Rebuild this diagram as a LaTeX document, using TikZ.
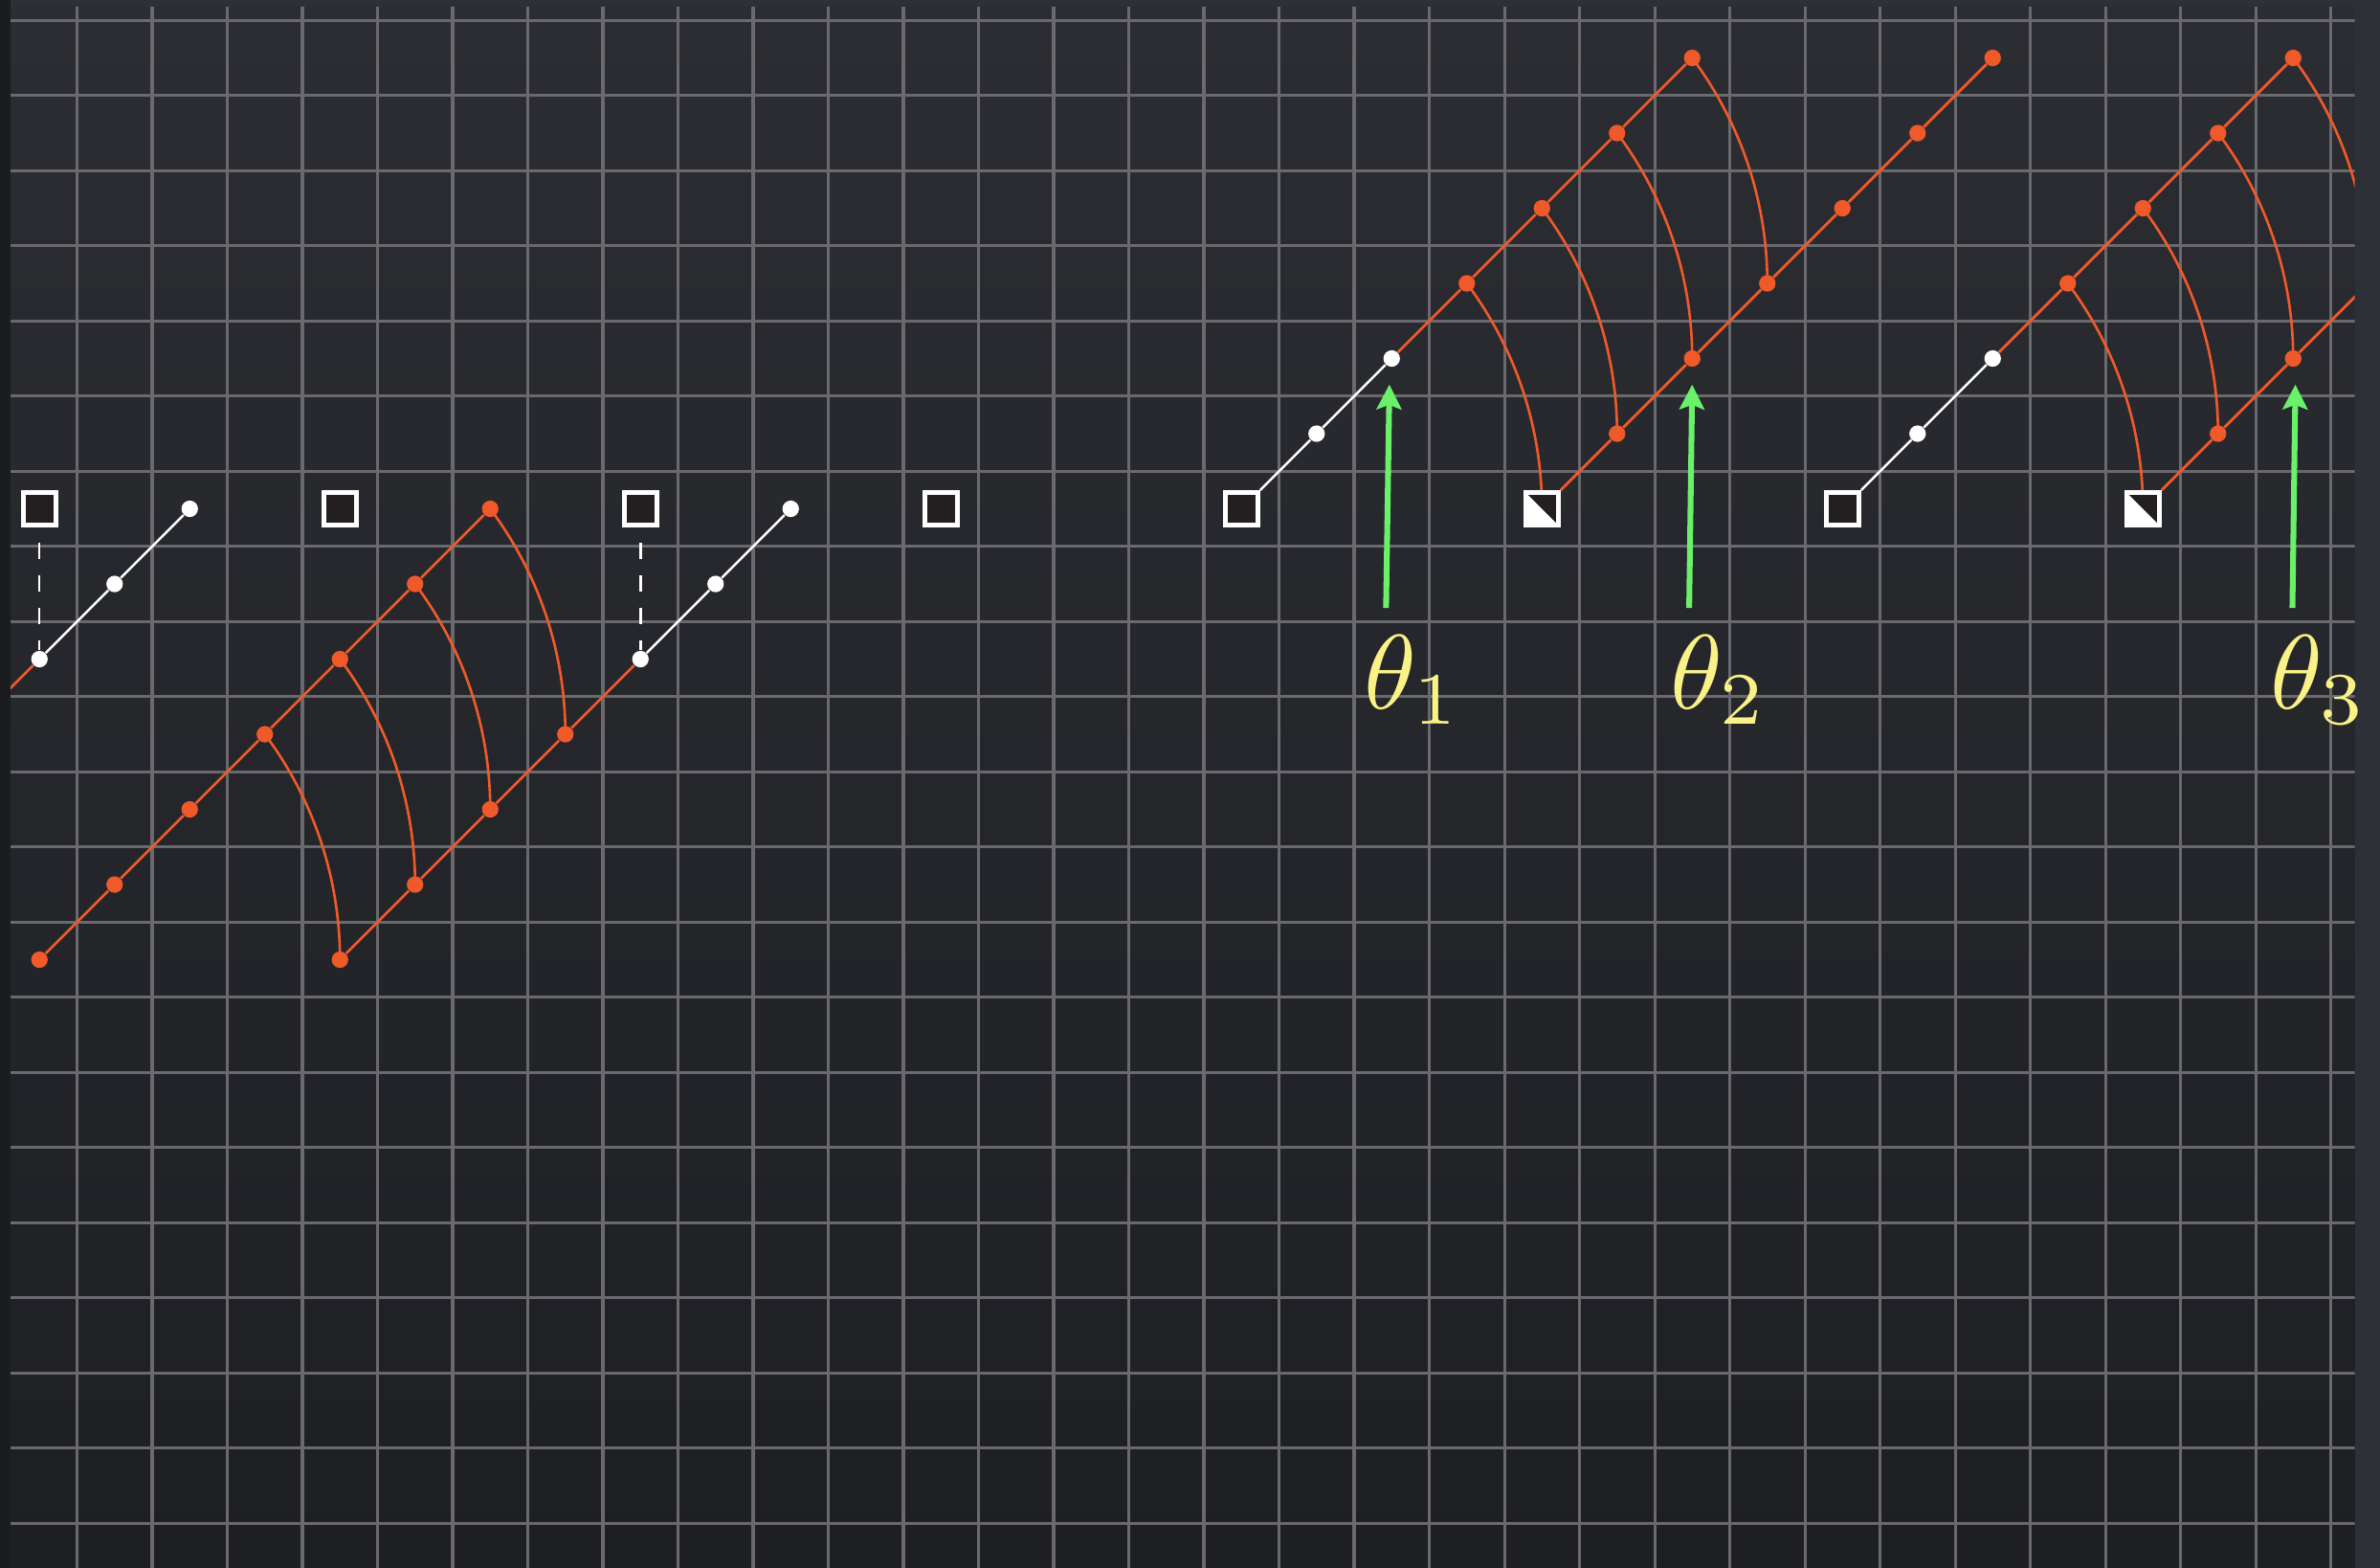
\documentclass[tikz,border=0pt]{standalone}
\usetikzlibrary{arrows.meta}
\definecolor{outerbg}{HTML}{2E3037}
\definecolor{leftbg}{HTML}{1B1C20}
\definecolor{boardtop}{HTML}{2C2D32}
\definecolor{boardbot}{HTML}{1E1F23}
\definecolor{gridc}{HTML}{69696E}
\definecolor{orng}{HTML}{F05A2A}
\definecolor{sqfill}{HTML}{231F20}
\definecolor{grn}{HTML}{6AF06A}
\definecolor{yel}{HTML}{FAF287}
\pgfdeclarelayer{back}
\pgfdeclarelayer{mid}
\pgfsetlayers{back,mid,main}
\tikzset{
  wdot/.style={circle, fill=white, inner sep=0pt, minimum size=0.22cm},
  odot/.style={circle, fill=orng, inner sep=0pt, minimum size=0.22cm},
  sqbox/.style={rectangle, draw=white, fill=sqfill, line width=1.8pt, minimum size=0.436cm, inner sep=0pt},
  halfbox/.style={sqbox, path picture={\fill[white] (path picture bounding box.north west) -- (path picture bounding box.south west) -- (path picture bounding box.south east) -- cycle;}},
  wline/.style={white, line width=0.9pt},
  oline/.style={orng, line width=1pt},
  arcR/.style={orng, line width=0.95pt},
  dashline/.style={white, line width=0.9pt, dash pattern=on 0.215cm off 0.22cm, shorten <=0.2cm},
  garrow/.style={grn, line width=2.2pt, -{Stealth[length=0.33cm, width=0.33cm, inset=0.06cm]}},
  lbl/.style={text=yel, anchor=base west, inner sep=0pt, scale=4},
  gridline/.style={gridc, line width=1.1pt},
}
\begin{document}
\begin{tikzpicture}[x=1cm,y=1cm]
\useasboundingbox (-0.5255,-14.095) rectangle (31.156,6.771);

% ---------- nodes ----------
\node[sqbox] (s0) at (0,0) {};
\node[sqbox] (s4) at (4,0) {};
\node[sqbox] (s8) at (8,0) {};
\node[sqbox] (s12) at (12,0) {};
\node[sqbox] (s16) at (16,0) {};
\node[halfbox] (s20) at (20,0) {};
\node[sqbox] (s24) at (24,0) {};
\node[halfbox] (s28) at (28,0) {};
\node[wdot] (wa) at (0,-2) {};
\node[wdot] (wb) at (1,-1) {};
\node[wdot] (wc) at (2,0) {};
\node[wdot] (wd) at (8,-2) {};
\node[wdot] (we) at (9,-1) {};
\node[wdot] (wf) at (10,0) {};
\node[wdot] (wg) at (17,1) {};
\node[wdot] (wh) at (18,2) {};
\node[wdot] (wi) at (25,1) {};
\node[wdot] (wj) at (26,2) {};
\foreach \k in {0,...,6} {\node[odot] (a\k) at (\k,\k-6) {};}
\foreach \k in {4,...,7} {\node[odot] (b\k) at (\k,\k-10) {};}
\foreach \k in {19,...,22} {\node[odot] (c\k) at (\k,\k-16) {};}
\foreach \k in {21,...,26} {\node[odot] (d\k) at (\k,\k-20) {};}
\foreach \k in {27,...,30} {\node[odot] (e\k) at (\k,\k-24) {};}
\foreach \k in {29,30} {\node[odot] (f\k) at (\k,\k-28) {};}
\coordinate (f31) at (31,3);
\coordinate (am1) at (-1,-3);

\coordinate (t1) at (17.925,-1.32); \coordinate (h1) at (17.97,1.654);
\coordinate (t2) at (21.96,-1.32);  \coordinate (h2) at (22.0,1.654);
\coordinate (t3) at (29.99,-1.32);  \coordinate (h3) at (30.03,1.654);
\draw[garrow] (t1) -- (h1);
\draw[garrow] (t2) -- (h2);
\draw[garrow] (t3) -- (h3);
\node[lbl] (l1) at (17.61,-2.656) {$\theta_1$};
\node[lbl] (l2) at (21.68,-2.656) {$\theta_2$};
\node[lbl] (l3) at (29.67,-2.656) {$\theta_3$};

% ---------- background + grid ----------
\begin{pgfonlayer}{back}
\fill[outerbg] (-0.5255,-14.095) rectangle (31.156,6.771);
\fill[leftbg] (-0.5255,-14.095) rectangle (-0.385,6.771);
\shade[top color=boardtop, bottom color=boardbot] (-0.385,-14.095) rectangle (30.82,6.678);
\begin{scope}
\clip (-0.385,-14.095) rectangle (30.82,6.678);
\draw[gridline, shift={(0.5,0.5)}, step=1] (-2,-16) grid (32,8);
\end{scope}
\end{pgfonlayer}

% ---------- connectors ----------
\begin{pgfonlayer}{mid}
\begin{scope}
\clip (-0.385,-14.095) rectangle (30.82,6.678);
\draw[dashline] (s0) -- (wa);
\draw[dashline] (s8) -- (wd);
\draw[wline] (wa) -- (wb) -- (wc);
\draw[wline] (wd) -- (we) -- (wf);
\draw[wline] (s16) -- (wg) -- (wh);
\draw[wline] (s24) -- (wi) -- (wj);
\draw[oline] (wa) -- (am1);
\draw[oline] (a0) -- (a1) -- (a2) -- (a3) -- (a4) -- (a5) -- (a6);
\draw[oline] (b4) -- (b5) -- (b6) -- (b7) -- (wd);
\draw[oline] (wh) -- (c19) -- (c20) -- (c21) -- (c22);
\draw[oline] (s20) -- (d21) -- (d22) -- (d23) -- (d24) -- (d25) -- (d26);
\draw[oline] (wj) -- (e27) -- (e28) -- (e29) -- (e30);
\draw[oline] (s28) -- (f29) -- (f30) -- (f31);
\foreach \u in {a3,a4,a5,a6,c19,c20,c21,c22,e27,e28,e29,e30}
  {\draw[arcR] (\u.center) arc[start angle=36.87, end angle=0, radius=5];}
\end{scope}
\end{pgfonlayer}
\end{tikzpicture}
\end{document}
